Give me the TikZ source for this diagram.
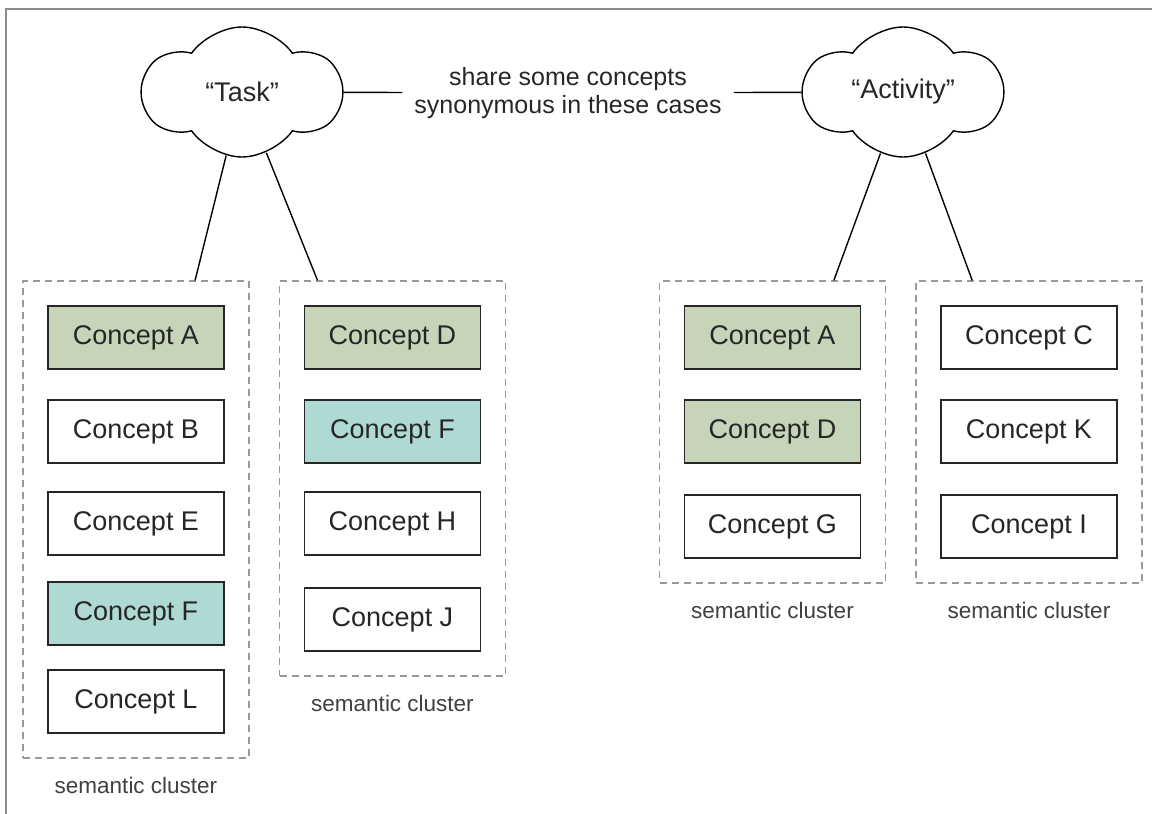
\documentclass[tikz,border=0pt]{standalone}
\usepackage{fontspec}
\setmainfont{Liberation Sans}
\usepackage{tikz}
\usetikzlibrary{calc,shapes.symbols,fit}
\usetikzlibrary{positioning}

\definecolor{sharedgreen}{HTML}{C6D5BA}
\definecolor{sharedteal}{HTML}{AEDAD3}

\begin{document}
\begin{tikzpicture}[x=1pt, y=-1pt,
        concept/.style={draw=black!85, line width=1.4pt, minimum width=176pt, minimum height=63pt,
            inner sep=0pt, text=black!85, font=\fontsize{27}{32}\selectfont},
        cluster/.style={draw=black!40, line width=1.2pt, dash pattern=on 7pt off 5pt, inner sep=24.3pt},
        clusterlabel/.style={text=black!75, font=\fontsize{22.5}{27}\selectfont, inner sep=0pt},
        term/.style={cloud, cloud puffs=6, cloud puff arc=110, cloud ignores aspect, draw, line width=1.4pt,
            minimum width=198pt, minimum height=130pt, inner sep=0pt,
            text=black!85, font=\fontsize{27}{32}\selectfont},
        node distance=29.6pt]
        \useasboundingbox (0,0) rectangle (1152,814);
        \draw[black!45, line width=1.5pt] (6,814) -- (6,9) -- (1152,9);

        % the two words
        \node[term] (task) at (242,92) {“Task”};
        \node[term] (activity) at (903,92) {“Activity”};
        \node[align=center, inner xsep=12pt, text=black!85, font=\fontsize{25}{28}\selectfont] (share) at (568,93)
            {share some concepts\\synonymous in these cases};

        % clusters of "Task"
        \node[concept, fill=sharedgreen] (a1) at (136,337.5) {Concept A};
        \node[concept, below=of a1] (b1) {Concept B};
        \node[concept, below=27.6pt of b1] (e1) {Concept E};
        \node[concept, fill=sharedteal, below=25.6pt of e1] (f1) {Concept F};
        \node[concept, below=23.6pt of f1] (l1) {Concept L};

        \node[concept, fill=sharedgreen] (d2) at (392.5,337.5) {Concept D};
        \node[concept, fill=sharedteal, below=of d2] (f2) {Concept F};
        \node[concept, below=27.6pt of f2] (h2) {Concept H};
        \node[concept, below=31.6pt of h2] (j2) {Concept J};

        % clusters of "Activity"
        \node[concept, fill=sharedgreen] (a3) at (772.5,337.5) {Concept A};
        \node[concept, fill=sharedgreen, below=of a3] (d3) {Concept D};
        \node[concept, below=30.6pt of d3] (g3) {Concept G};

        \node[concept] (c4) at (1029,337.5) {Concept C};
        \node[concept, below=of c4] (k4) {Concept K};
        \node[concept, below=30.6pt of k4] (i4) {Concept I};

        \node[cluster, fit=(a1)(l1)] (cl1) {};
        \node[cluster, fit=(d2)(j2)] (cl2) {};
        \node[cluster, fit=(a3)(g3)] (cl3) {};
        \node[cluster, fit=(c4)(i4)] (cl4) {};
        \node[clusterlabel, below=18pt of cl1] (lab1) {semantic cluster};
        \node[clusterlabel, below=18pt of cl2] (lab2) {semantic cluster};
        \node[clusterlabel, below=18pt of cl3] (lab3) {semantic cluster};
        \node[clusterlabel, below=18pt of cl4] (lab4) {semantic cluster};

        \coordinate (t1) at ($(cl1.north west)!.76!(cl1.north east)$);
        \coordinate (t2) at ($(cl2.north west)!.17!(cl2.north east)$);
        \coordinate (t3) at ($(cl3.north west)!.77!(cl3.north east)$);
        \coordinate (t4) at ($(cl4.north west)!.25!(cl4.north east)$);

        \path[line width=1.4pt]
            (task) edge (share)
            (share) edge (activity)
            (task) edge (t1)
            (task) edge (t2)
            (activity) edge (t3)
            (activity) edge (t4);
    \end{tikzpicture}
\end{document}
